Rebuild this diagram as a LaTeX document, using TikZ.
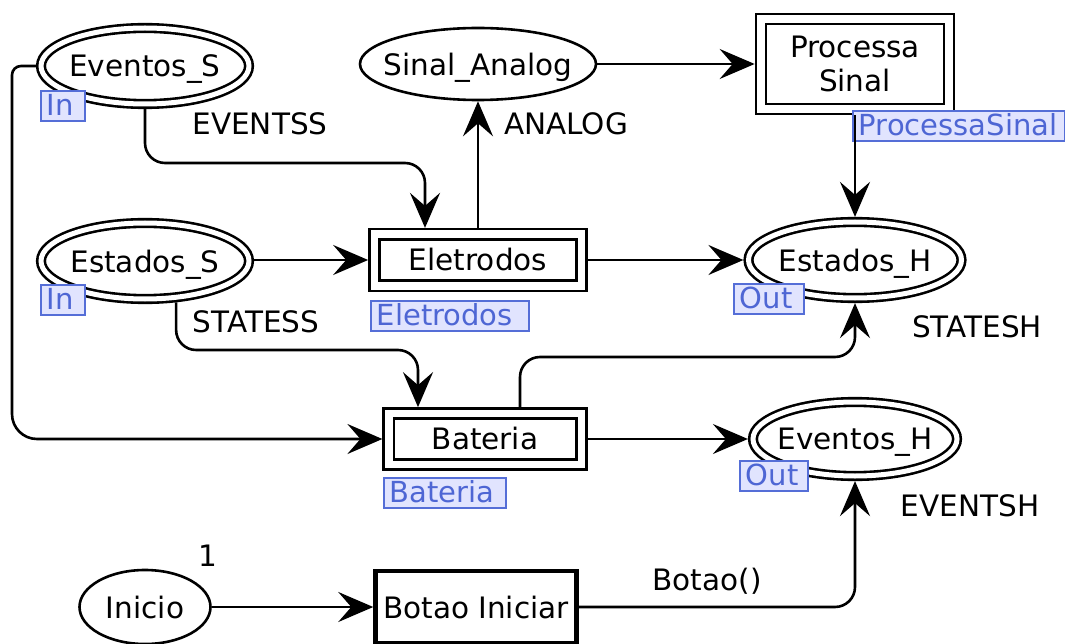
\documentclass[tikz,border=0pt]{standalone}
\usepackage{fontspec}
\setmainfont{DejaVu Sans}
\usetikzlibrary{arrows.meta,shapes.geometric}
\definecolor{tagline}{RGB}{85,110,215}
\definecolor{tagtext}{RGB}{78,102,212}
\definecolor{tagfill}{RGB}{225,228,254}
\newcommand{\tagtext}[2]{\makebox[#1][l]{#2}}

\begin{document}
\begin{tikzpicture}[x=1pt,y=-1pt,
  every node/.style={font=\fontsize{29.5}{34}\selectfont},
  every label/.style={text depth=0pt, inner sep=0pt},
  place/.style={ellipse, draw, line width=2.6pt, fill=white, inner sep=0pt},
  port/.style={place, double=white, double distance=5pt, outer sep=5.1pt},
  subst/.style={rectangle, draw, line width=2.6pt, double=white, double distance=7.5pt,
    fill=white, inner sep=0pt, outer sep=6.35pt, align=center},
  trans/.style={rectangle, draw, line width=4.5pt, fill=white, inner sep=0pt},
  tag/.style={rectangle, draw=tagline, line width=1.8pt, fill=tagfill, text=tagtext,
    inner xsep=6pt, inner ysep=0pt, minimum height=30pt, anchor=north west,
    text height=24pt, text depth=5.5pt, font=\fontsize{29}{30}\selectfont},
  arc/.style={line width=2.6pt, -{Stealth[length=35pt,width=30pt,inset=13pt]},
    rounded corners=20pt},
  inscr/.style={inner sep=0pt}
]
\useasboundingbox (0,0) rectangle (1065,644);

% places
\node[port, minimum width=208pt, minimum height=76pt, label={center:Eventos\_S}] (evS) at (145,66) {};
\node[port, minimum width=208pt, minimum height=76pt, label={center:Estados\_S}] (stS) at (145,261) {};
\node[port, minimum width=213pt, minimum height=76pt, label={center:Estados\_H}] (stH) at (855,260) {};
\node[port, minimum width=204pt, minimum height=74pt, label={center:Eventos\_H}] (evH) at (855,439) {};
\node[place, minimum width=236pt, minimum height=72pt, label={center:Sinal\_Analog}] (sig) at (478,64) {};
\node[place, minimum width=131pt, minimum height=74pt, label={center:Inicio}] (ini) at (145,607) {};

% transitions
\node[subst, minimum width=188pt, minimum height=90pt] (proc) at (855,64) {Processa\\Sinal};
\node[subst, minimum width=207pt, minimum height=51.5pt] (ele) at (478,260) {Eletrodos};
\node[subst, minimum width=192.5pt, minimum height=51pt] (bat) at (485,439) {Bateria};
\node[trans, minimum width=201pt, minimum height=72pt] (btn) at (476,607) {Botao Iniciar};

% port and substitution tags
\node[tag] (tagEvS) at (40,90) {\tagtext{32pt}{In}};
\node[tag] (tagStS) at (40,284) {\tagtext{32pt}{In}};
\node[tag] (tagStH) at (733,283) {\tagtext{58pt}{Out}};
\node[tag] (tagEvH) at (739,460) {\tagtext{56pt}{Out}};
\node[tag] (tagEle) at (370,300) {\tagtext{146pt}{Eletrodos}};
\node[tag] (tagBat) at (383,477) {\tagtext{110pt}{Bateria}};
\node[tag] (tagProc) at (852,110) {\tagtext{200pt}{ProcessaSinal}};

% arcs
\draw[arc] (evS.south) -- (evS.south |- 0,163) -- (425,163) -- (ele.north -| 425,0);
\draw[arc, rounded corners=9pt] (evS.west) -- (evS.west -| 12,0)
  [rounded corners=25pt] -- (bat.west -| 12,0) -- (bat.west);
\draw[arc] (ele.north) -- (sig.south);
\draw[arc] (sig.east) -- (proc.west);
\draw[arc] (proc.south) -- (stH.north);
\draw[arc] (stS.east |- ele.west) -- (ele.west);
\draw[arc] (ele.east) -- (stH.west);
\draw[arc] (stS.-53.4) -- (stS.-53.4 |- 0,350) -- (418,350) -- (bat.north -| 418,0);
\draw[arc] (bat.north -| 520,0) -- (520,357) -- (stH.south |- 0,357) -- (stH.south);
\draw[arc] (bat.east) -- (evH.west);
\draw[arc] (ini.east) -- (btn.west);
\draw[arc] (btn.east) -- (btn.east -| evH.south) -- (evH.south);

% arc inscriptions and marking
\node[inscr] (insEvS) at (260,124) {EVENTSS};
\node[inscr] (insSig) at (566,124) {ANALOG};
\node[inscr] (insStS) at (256,322) {STATESS};
\node[inscr] (insStH) at (977,327) {STATESH};
\node[inscr] (insEvH) at (970,506) {EVENTSH};
\node[inscr] (insBtn) at (707,581) {Botao()};
\node[inscr] (mark) at (208,556) {1};
\end{tikzpicture}
\end{document}
